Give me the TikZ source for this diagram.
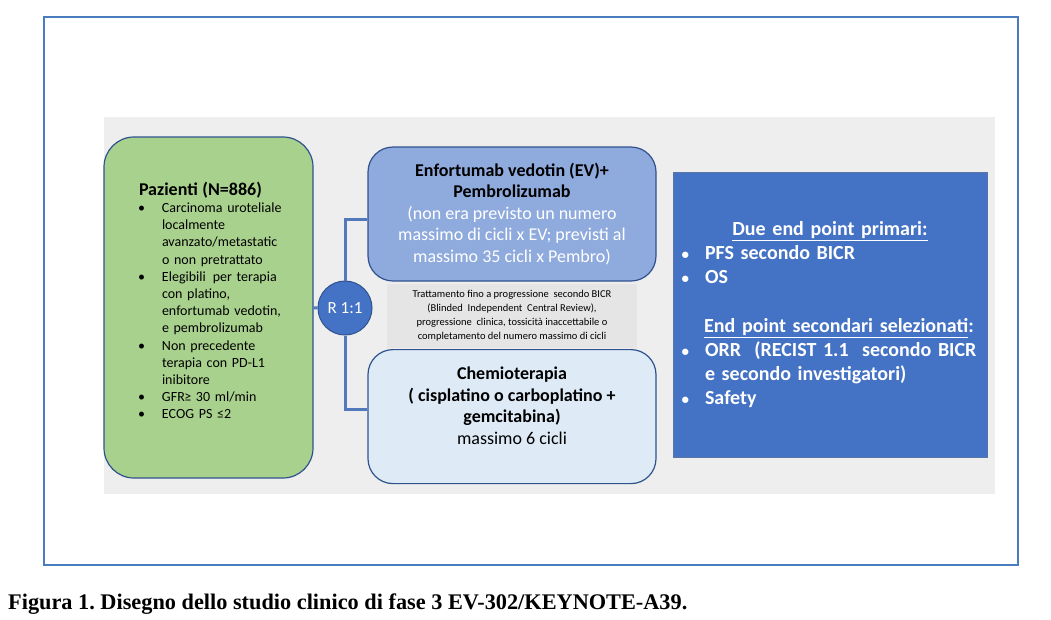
\documentclass[tikz,border=0pt]{standalone}
\usepackage{fontspec}
\setmainfont{Carlito}
\newfontfamily\captionfont{Liberation Serif}
\usetikzlibrary{positioning}

\definecolor{framecol}{RGB}{74,124,192}
\definecolor{panelgray}{RGB}{238,238,238}
\definecolor{notegray}{RGB}{229,229,229}
\definecolor{patgreen}{RGB}{169,209,142}
\definecolor{borderblue}{RGB}{47,82,143}
\definecolor{evblue}{RGB}{143,170,220}
\definecolor{chemoblue}{RGB}{222,235,247}
\definecolor{endblue}{RGB}{68,114,196}
\definecolor{linkblue}{RGB}{84,120,188}

% bullet lines for the two text boxes
\newcommand{\patitem}[1]{\par\noindent\hangindent=23pt\hangafter=0\llap{\textbullet\hspace{17pt}}#1}
\newcommand{\epitem}[1]{\par\noindent\hangindent=27pt\hangafter=0\llap{{\fontsize{15}{15}\selectfont\textbullet}\hspace{16pt}}#1}

\begin{document}
\begin{tikzpicture}[
    x=1pt, y=-1pt,
    patient/.style={rectangle, rounded corners=30pt, draw=borderblue, line width=1.2pt, fill=patgreen, minimum width=209pt, minimum height=341pt, text width=139pt, align=left, inner sep=0pt, font=\fontsize{14}{17.2}\selectfont},
    arm/.style={rectangle, rounded corners=25pt, draw=borderblue, line width=1.2pt, minimum width=288pt, minimum height=134pt, align=center, font=\fontsize{18}{21.5}\selectfont},
    note/.style={rectangle, fill=notegray, minimum width=250pt, minimum height=64pt, align=center, inner sep=0pt, font=\fontsize{10.5}{14}\selectfont},
    randomize/.style={circle, draw=borderblue, line width=1pt, fill=endblue, minimum size=54pt, inner sep=0pt, text=white, font=\fontsize{17}{20}\selectfont},
    endpoint/.style={rectangle, draw=borderblue!80, line width=0.8pt, fill=endblue, minimum width=314pt, minimum height=285pt, text width=304pt, align=left, inner sep=0pt, text=white, font=\fontsize{20}{24}\selectfont\bfseries},
    link/.style={line width=3pt, draw=linkblue},
]
    \useasboundingbox (0,0) rectangle (1051,619);

    % frame and grey panel
    \draw [framecol, line width=2pt] (44,17) rectangle (1018,565);
    \fill [panelgray] (104,117) rectangle (995,494);

    % patients
    \node (pazienti) [patient] at (208.5,307.5) {%
        \rightskip=-40pt plus 1fil\hyphenpenalty=10000
        {\fontsize{18}{20}\selectfont\bfseries Pazienti (N=886)\par}
        \patitem{Carcinoma uroteliale\newline localmente\newline avanzato/metastatic\newline o non pretrattato}
        \patitem{Elegibili \,per terapia\newline con platino,\newline enfortumab vedotin,\newline e pembrolizumab}
        \patitem{Non precedente\newline terapia con PD-L1\newline inibitore}
        \patitem{GFR\kern-0.5pt≥ 30 ml/min}
        \patitem{ECOG PS ≤2}\par\nointerlineskip\vbox to 14pt{}};

    % randomisation and the two arms
    \node (rand) [randomize] at (345,308) {R 1:1};
    \node (arm_ev) [arm, fill=evblue] at (512,214) {\textbf{Enfortumab vedotin (EV)+}\\ \textbf{Pembrolizumab}\\ \textcolor{white}{(non era previsto un numero}\\ \textcolor{white}{massimo di cicli x EV; previsti al}\\ \textcolor{white}{massimo 35 cicli x Pembro)}};
    \node (note) [note, below=2pt of arm_ev] {Trattamento fino a progressione \ secondo BICR\\ (Blinded \ Independent \ Central Review),\\ progressione \ clinica, tossicità inaccettabile o\\ completamento del numero massimo di cicli};
    \node (arm_chemo) [arm, fill=chemoblue, below=1pt of note] {\textbf{Chemioterapia}\\ \textbf{( cisplatino o carboplatino +}\\ \textbf{gemcitabina)}\\ massimo 6 cicli\\ \mbox{}};

    \draw [link] (pazienti) -- (rand);
    \draw [link] (rand) |- ([yshift=-5pt]arm_ev.west);
    \draw [link] (rand) |- ([yshift=7pt]arm_chemo.west);

    % end points
    \node (endpoints) [endpoint] at (830,314.5) {%
        {\centering\underline{Due end point primari:}\par}
        \epitem{PFS secondo BICR}
        \epitem{OS}\par\vspace{25pt}
        {\centering\hspace{18pt}\underline{End point secondari selezionati}:\par}
        \epitem{ORR \ (RECIST 1.1 \ secondo BICR\newline e secondo investigatori)}
        \epitem{Safety}\par};

    % caption
    \node (caption) [anchor=base west, inner sep=0pt, font=\captionfont\bfseries\fontsize{22.3}{26}\selectfont] at (8,609) {Figura 1.\ Disegno dello studio clinico di fase 3 EV-302/KEYNOTE-A39.};
\end{tikzpicture}
\end{document}
